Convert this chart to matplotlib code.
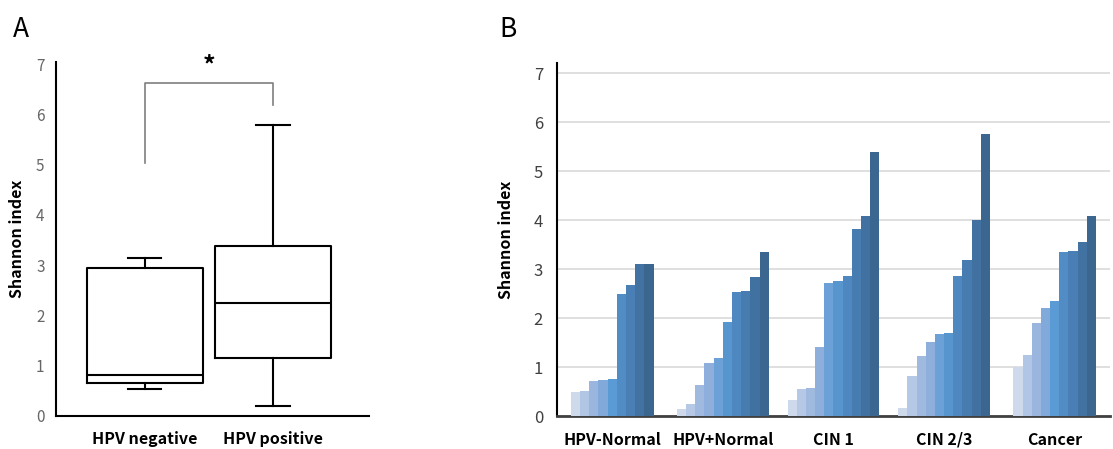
import numpy as np
import matplotlib
matplotlib.use('Agg')
from matplotlib import pyplot as plt
from matplotlib.colors import LinearSegmentedColormap

plt.rcParams['font.family'] = ['Noto Sans CJK KR', 'DejaVu Sans']

# panel A: box summary values (whisker low, Q1, median, Q3, whisker high)
box_labels = ['HPV negative', 'HPV positive']
box_low = [0.53, 0.18]
box_q1 = [0.65, 1.14]
box_med = [0.80, 2.24]
box_q3 = [2.94, 3.39]
box_high = [3.15, 5.80]

# panel B: per-sample Shannon index, sorted within each group
groups = ['HPV-Normal', 'HPV+Normal', 'CIN 1', 'CIN 2/3', 'Cancer']
hpv_neg_normal = [0.50, 0.51, 0.73, 0.74, 0.77, 2.50, 2.69, 3.10, 3.11]
hpv_pos_normal = [0.15, 0.25, 0.65, 1.10, 1.19, 1.93, 2.54, 2.56, 2.84, 3.35]
cin1 = [0.33, 0.56, 0.59, 1.41, 2.72, 2.76, 2.86, 3.82, 4.09, 5.40]
cin23 = [0.17, 0.82, 1.24, 1.52, 1.69, 1.71, 2.87, 3.19, 4.01, 5.75]
cancer = [1.01, 1.25, 1.90, 2.22, 2.35, 3.35, 3.37, 3.56, 4.09]
group_values = [hpv_neg_normal, hpv_pos_normal, cin1, cin23, cancer]

fig = plt.figure(figsize=(11.13, 4.49), dpi=100)

# ---------- panel A ----------
axA = fig.add_axes([0.050, 0.0746, 0.2815, 0.7874])
stats = []
for i in range(2):
    stats.append({'whislo': box_low[i], 'q1': box_q1[i], 'med': box_med[i],
                  'q3': box_q3[i], 'whishi': box_high[i], 'fliers': [], 'label': box_labels[i]})
axA.bxp(stats, positions=[1, 2], widths=0.906, showfliers=False,
        boxprops=dict(color='black', lw=1.5),
        medianprops=dict(color='black', lw=1.5),
        whiskerprops=dict(color='black', lw=1.5),
        capprops=dict(color='black', lw=1.5), capwidths=0.26)
axA.set_xlim(0.305, 2.75)
axA.set_ylim(0, 7.05)
axA.set_yticks(range(8))
axA.tick_params(axis='y', length=0, labelsize=11, labelcolor='#666666', pad=8)
axA.tick_params(axis='x', length=0, labelsize=11.5, pad=11)
for lab in axA.get_xticklabels():
    lab.set_fontweight('bold')
axA.spines['top'].set_visible(False)
axA.spines['right'].set_visible(False)
axA.spines['left'].set_linewidth(1.5)
axA.spines['bottom'].set_linewidth(1.5)
axA.set_ylabel('Shannon index', fontsize=11.5, fontweight='bold', labelpad=8)

# significance bracket
axA.plot([1.0, 1.0, 2.0, 2.0], [5.04, 6.64, 6.64, 6.19], color='#7f7f7f', lw=1.2, clip_on=False)
axA.text(1.5, 6.98, '*', ha='center', va='center', fontsize=18, fontweight='bold', clip_on=False)
fig.text(0.012, 0.935, 'A', fontsize=19, ha='left', va='center')

# ---------- panel B ----------
axB = fig.add_axes([0.5004, 0.0724, 0.4969, 0.7866])
cmap = LinearSegmentedColormap.from_list('blues', ['#ced9ec', '#a8bfe1', '#8eaedb', '#5b9bd5',
                                                   '#4f88c0', '#4476a8', '#3a6690'])
w = 0.083
for i, vals in enumerate(group_values):
    n = len(vals)
    pos = i + (np.arange(n) - (n - 1) / 2.0) * w
    cols = cmap(np.linspace(0, 1, n))
    axB.bar(pos, vals, width=w, color=cols, edgecolor='none', zorder=3)

axB.set_xlim(-0.5, 4.5)
axB.set_ylim(0, 7.2)
axB.set_yticks(range(8))
axB.yaxis.grid(True, color='#d9d9d9', lw=1.2, zorder=0)
axB.set_axisbelow(True)
axB.set_xticks(range(5))
axB.set_xticklabels(groups, fontsize=11.5, fontweight='bold')
axB.tick_params(axis='x', length=0, pad=11)
axB.tick_params(axis='y', length=0, labelsize=12, labelcolor='#404040', pad=10)
axB.spines['top'].set_visible(False)
axB.spines['right'].set_visible(False)
axB.spines['left'].set_linewidth(1.5)
axB.spines['bottom'].set_linewidth(2)
axB.spines['bottom'].set_color('#404040')
axB.set_ylabel('Shannon index', fontsize=11.5, fontweight='bold', labelpad=14)
fig.text(0.449, 0.935, 'B', fontsize=19, ha='left', va='center')

fig.savefig('out.png', dpi=100)
